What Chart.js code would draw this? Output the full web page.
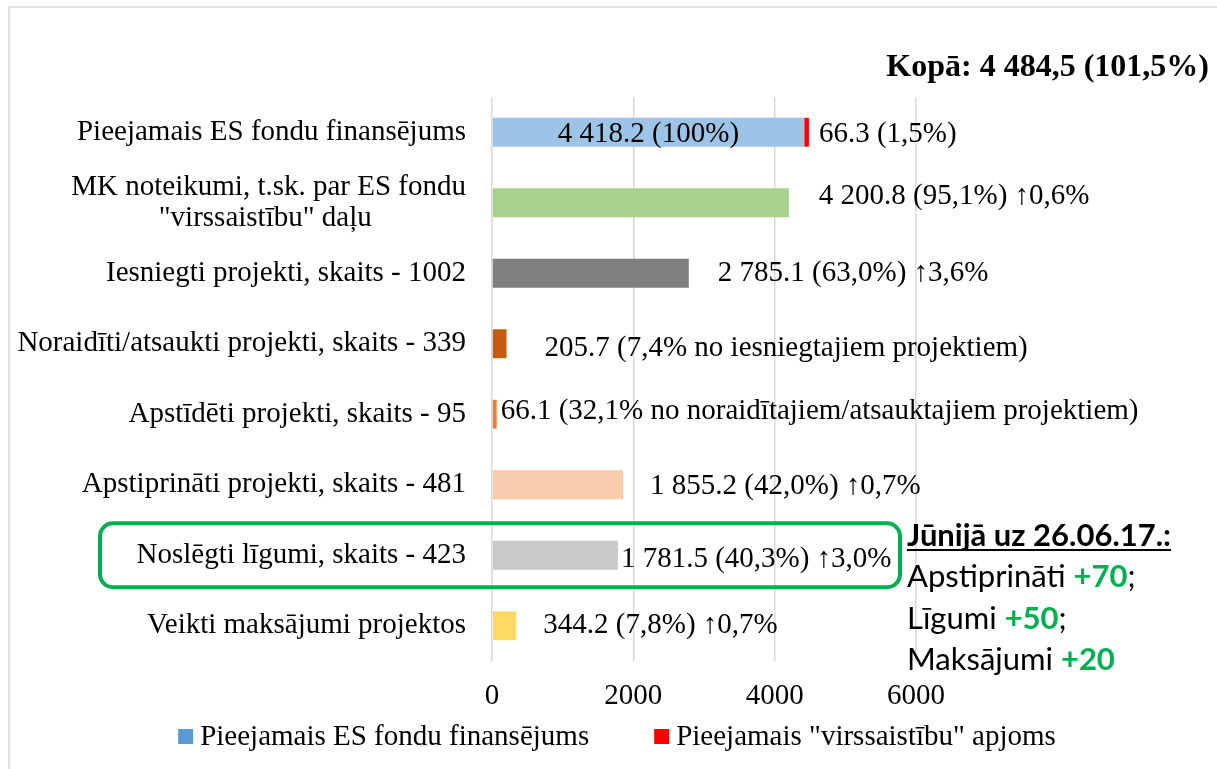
<!DOCTYPE html>
<html>
<head>
<meta charset="utf-8">
<script src="https://cdn.jsdelivr.net/npm/chart.js@4"></script>
<style>
  body { margin: 0; background: #fff; }
</style>
</head>
<body>
<canvas id="myChart" width="1217" height="769"></canvas>
<script>
// data
const categories = [
  "Pieejamais ES fondu finansējums",
  ["MK noteikumi, t.sk. par ES fondu", "\"virssaistību\" daļu"],
  "Iesniegti projekti, skaits - 1002",
  "Noraidīti/atsaukti projekti, skaits - 339",
  "Apstīdēti projekti, skaits - 95",
  "Apstiprināti projekti, skaits - 481",
  "Noslēgti līgumi, skaits - 423",
  "Veikti maksājumi projektos"
];
const fundValues = [4418.2, 4200.8, 2785.1, 205.7, 66.1, 1855.2, 1781.5, 344.2];
const overValues = [66.3, null, null, null, null, null, null, null];
const valueLabels = [
  "4 418.2 (100%)",
  "4 200.8 (95,1%) ↑0,6%",
  "2 785.1 (63,0%) ↑3,6%",
  "205.7 (7,4% no iesniegtajiem projektiem)",
  "66.1 (32,1% no noraidītajiem/atsauktajiem projektiem)",
  "1 855.2 (42,0%) ↑0,7%",
  "1 781.5 (40,3%) ↑3,0%",
  "344.2 (7,8%) ↑0,7%"
];
const overLabels = ["66.3 (1,5%)", null, null, null, null, null, null, null];
const xTicks = [0, 2000, 4000, 6000];
const seriesNames = ["Pieejamais ES fondu finansējums", "Pieejamais \"virssaistību\" apjoms"];
const totalText = "Kopā: 4 484,5 (101,5%)";
const juneTitle = "Jūnijā uz 26.06.17.:";
const juneItems = [["Apstiprināti ", "+70", ";"], ["Līgumi ", "+50", ";"], ["Maksājumi ", "+20", ""]];

// styles
const barColors = ["#9DC3E6", "#A9D18E", "#7F7F7F", "#C55A11", "#ED7D31", "#F8CBAD", "#C9C9C9", "#FFD966"];
const legendColors = ["#5B9BD5", "#FF0000"];
const labelGap = [null, 30, 29, 38, 4, 27, 3, 27];   // null = inside the bar
const labelShift = [2, -6, 0, 5, -3, 2, 4, 0];
const serif = "'Liberation Serif', 'Times New Roman', serif";
const sans = "Lato, 'Open Sans', sans-serif";
const fontSize = 29;
const noteSize = 31;

Chart.defaults.font.family = serif;
Chart.defaults.color = "#000";

// wrapped labels are centred line by line, like in Excel
const measureCtx = document.createElement("canvas").getContext("2d");
function centerLines(lines) {
  measureCtx.font = fontSize + "px " + serif;
  const widths = lines.map(l => measureCtx.measureText(l).width);
  const maxW = Math.max(...widths);
  const spaceW = measureCtx.measureText(" ").width;
  return lines.map((l, i) => l + " ".repeat(Math.round((maxW - widths[i]) / 2 / spaceW)));
}

// value labels next to the bars
const barLabels = {
  id: "barLabels",
  afterDatasetsDraw(chart) {
    const ctx = chart.ctx;
    const fund = chart.getDatasetMeta(0).data;
    const over = chart.getDatasetMeta(1).data;
    ctx.save();
    ctx.font = fontSize + "px " + serif;
    ctx.fillStyle = "#000";
    ctx.textBaseline = "middle";
    fund.forEach((bar, i) => {
      const y = bar.y + labelShift[i];
      if (labelGap[i] === null) {
        ctx.textAlign = "center";
        ctx.fillText(valueLabels[i], (bar.base + bar.x) / 2, y);
      } else {
        ctx.textAlign = "left";
        ctx.fillText(valueLabels[i], bar.x + labelGap[i], y);
      }
    });
    over.forEach((bar, i) => {
      if (!overLabels[i]) return;
      ctx.textAlign = "left";
      ctx.fillText(overLabels[i], bar.x + 10, bar.y + labelShift[i]);
    });
    ctx.restore();
  }
};

// title, frame, green box, side note and legend
const extras = {
  id: "extras",
  afterDraw(chart) {
    const ctx = chart.ctx;
    const yScale = chart.scales.y;
    ctx.save();

    // light frame
    ctx.strokeStyle = "#D9D9D9";
    ctx.lineWidth = 1.5;
    ctx.strokeRect(9, 7, 1300, 900);

    // total
    ctx.font = "bold 32px " + serif;
    ctx.fillStyle = "#000";
    ctx.textAlign = "right";
    ctx.textBaseline = "middle";
    ctx.fillText(totalText, 1209, 68);

    // green box round the contracts row
    const cy = yScale.getPixelForValue(6);
    ctx.strokeStyle = "#00B050";
    ctx.lineWidth = 4;
    ctx.beginPath();
    ctx.roundRect(100, cy - 32, 800, 64, 13);
    ctx.stroke();

    // June note
    ctx.textAlign = "left";
    ctx.font = "bold " + noteSize + "px " + sans;
    ctx.fillStyle = "#000";
    ctx.fillText(juneTitle, 907, 536);
    const tw = ctx.measureText(juneTitle).width;
    ctx.fillRect(907, 549, tw, 2);
    juneItems.forEach((parts, i) => {
      const y = 577 + i * 41.5;
      let x = 907;
      ctx.font = noteSize + "px " + sans;
      ctx.fillStyle = "#000";
      ctx.fillText(parts[0], x, y);
      x += ctx.measureText(parts[0]).width;
      ctx.font = "bold " + noteSize + "px " + sans;
      ctx.fillStyle = "#00B050";
      ctx.fillText(parts[1], x, y);
      x += ctx.measureText(parts[1]).width;
      ctx.font = noteSize + "px " + sans;
      ctx.fillStyle = "#000";
      ctx.fillText(parts[2], x, y);
    });

    // legend
    ctx.font = fontSize + "px " + serif;
    const items = chart.data.datasets.map((ds, i) => ({
      text: ds.label, color: legendColors[i], w: 15 + 7 + ctx.measureText(ds.label).width
    }));
    const gap = 65;
    const total = items.reduce((s, it) => s + it.w, 0) + gap * (items.length - 1);
    let lx = 617 - total / 2;
    items.forEach(it => {
      ctx.fillStyle = it.color;
      ctx.fillRect(lx, 729, 15, 15);
      ctx.fillStyle = "#000";
      ctx.fillText(it.text, lx + 22, 737);
      lx += it.w + gap;
    });
    ctx.restore();
  }
};

const ctx = document.getElementById("myChart").getContext("2d");
new Chart(ctx, {
  type: "bar",
  data: {
    labels: categories,
    datasets: [
      {
        label: seriesNames[0],
        data: fundValues,
        backgroundColor: barColors,
        barPercentage: 0.41,
        categoryPercentage: 1
      },
      {
        label: seriesNames[1],
        data: overValues,
        backgroundColor: "#FF0000",
        barPercentage: 0.41,
        categoryPercentage: 1
      }
    ]
  },
  options: {
    indexAxis: "y",
    responsive: false,
    animation: false,
    layout: { padding: { left: 0, right: 301, top: 97, bottom: 58 } },
    plugins: {
      legend: { display: false },
      tooltip: { enabled: false }
    },
    scales: {
      x: {
        stacked: true,
        min: 0,
        max: 6000,
        afterBuildTicks: scale => { scale.ticks = xTicks.map(v => ({ value: v })); },
        afterFit: scale => { scale.height = 50; },
        grid: { color: "#D9D9D9", lineWidth: 1.5, drawTicks: false },
        border: { display: false },
        ticks: {
          padding: 18,
          font: { size: fontSize },
          callback: value => String(value)
        }
      },
      y: {
        stacked: true,
        afterFit: scale => { scale.width = 492; },
        grid: { display: false, drawTicks: false },
        border: { display: false },
        ticks: {
          padding: 26,
          font: { size: fontSize, lineHeight: 1.07 },
          callback: function (value) {
            const label = this.getLabelForValue(value);
            return Array.isArray(label) ? centerLines(label) : label;
          }
        }
      }
    }
  },
  plugins: [barLabels, extras]
});
</script>
</body>
</html>
